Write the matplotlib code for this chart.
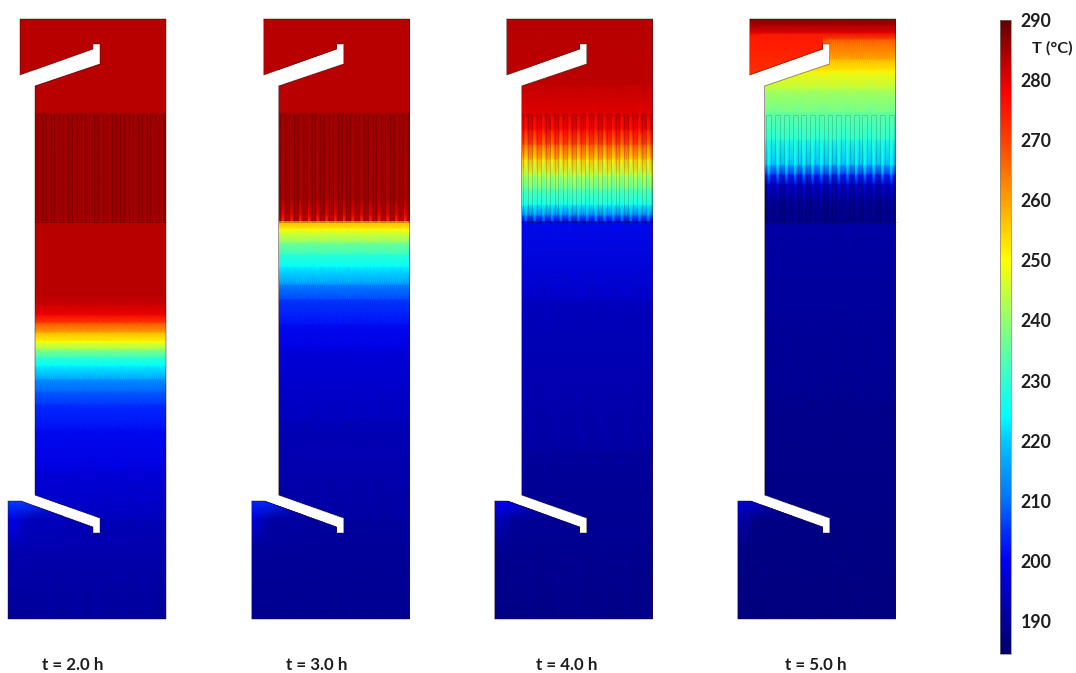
import numpy as np
import matplotlib
matplotlib.use("Agg")
import matplotlib.pyplot as plt
from matplotlib.colors import LinearSegmentedColormap, Normalize
from matplotlib.cm import ScalarMappable
from matplotlib.patches import Polygon

W, H = 1076, 673
plt.rcParams['font.family'] = ['Lato', 'DejaVu Sans']

# values, y is in picture pixels
labels = ["t = 2.0 h", "t = 3.0 h", "t = 4.0 h", "t = 5.0 h"]
label_x = [73, 317, 567, 816]
ticks = [190, 200, 210, 220, 230, 240, 250, 260, 270, 280, 290]
tmin, tmax = 184.5, 290

y1 = [19, 113, 113.5, 221.5, 222, 295, 305, 315, 323, 333, 342, 350, 358, 366, 380, 392, 405, 430, 470, 520, 619]
t1_gap = [283.5, 283.5, 285, 285, 283.5, 283.5, 282, 279, 270, 258, 250, 240, 230, 224, 214, 209, 205, 201, 198, 194, 190]
t1_fin = [283.5, 283.5, 285.6, 285.6, 283.5, 283.5, 282, 279, 270, 258, 250, 240, 230, 224, 214, 209, 205, 201, 198, 194, 190]

y2 = [19, 113, 113.5, 200, 215, 221.5, 222, 230, 243, 255, 267, 285, 300, 325, 350, 420, 520, 619]
t2_gap = [283.5, 283.5, 285, 284, 278, 270, 259, 250, 238, 230, 224, 213, 206, 201, 198, 194, 191, 189]
t2_fin = [283.5, 283.5, 285.6, 285.6, 284.5, 283, 259, 250, 238, 230, 224, 213, 206, 201, 198, 194, 191, 189]

y3 = [19, 85, 113, 113.5, 130, 145, 160, 175, 190, 205, 216, 221.5, 222, 300, 450, 619]
t3_gap = [283.5, 283, 280, 279, 274, 262, 250, 240, 232, 226, 216, 208, 201, 195, 191, 188]
t3_fin = [283.5, 283, 280, 283, 279, 270, 258, 245, 235, 226, 209, 200, 201, 195, 191, 188]

y4 = [19, 25, 33, 40, 60, 72, 90, 113, 113.5, 140, 165, 175, 185, 200, 221.5, 222, 400, 619]
t4_gap = [287, 285, 280, 268, 258, 251, 243, 236, 235, 230, 224, 214, 200, 192, 188, 192, 189, 187]
t4_fin = [287, 285, 280, 268, 258, 251, 243, 236, 236, 228, 218, 203, 193, 190, 187, 192, 189, 187]

# the upper left block of the last panel stays hotter
y4_block = [36, 50, 75]
t4_block = [275, 274, 272]

# warmer corner of the lower block
t_corner = [206, 204, 200, 196]

ys = [y1, y2, y3, y4]
t_gaps = [t1_gap, t2_gap, t3_gap, t4_gap]
t_fins = [t1_fin, t2_fin, t3_fin, t4_fin]

outline = [(20, 19), (166, 19), (166, 619), (8, 619), (8, 501), (21, 501), (93, 527),
           (93, 533), (100, 533), (100, 518), (35, 495), (35, 86), (100, 64), (100, 44),
           (93, 44), (93, 49), (20, 75)]
offsets = [0, 243.5, 486.5, 729.5]
fin_top, fin_bottom = 113, 222
n_fins = 15

jet_t = [tmin, 190, 200, 205, 210, 220, 224, 230, 240, 250, 260, 270, 278, 283, 290]
jet_c = ["#000068", "#000098", "#0000f0", "#0030ff", "#0070ff", "#00c8ff", "#00ffff",
         "#30ffd0", "#90ff70", "#ffff00", "#ffa000", "#ff4000", "#ff0000", "#c00000", "#600000"]
cmap = LinearSegmentedColormap.from_list(
    "field", [((t - tmin) / (tmax - tmin), c) for t, c in zip(jet_t, jet_c)], N=512)
norm = Normalize(tmin, tmax)

fig = plt.figure(figsize=(W / 100, H / 100), dpi=100)
ax = fig.add_axes([0, 0, 1, 1])
ax.set_xlim(0, W)
ax.set_ylim(H, 0)
ax.axis("off")

pitch = (166 - 35) / n_fins

for i, off in enumerate(offsets):
    clip = Polygon([(x + off, y) for x, y in outline], closed=True, transform=ax.transData,
                   facecolor="none", edgecolor="none")
    ax.add_patch(clip)

    # x nodes: fin edge, channel centre, fin edge ... one row per profile knot
    xn, is_fin = [8 + off, 35 + off], [1, 1]
    for k in range(n_fins):
        x0 = 35 + off + k * pitch
        xn += [x0 + 0.22 * pitch, x0 + 0.5 * pitch, x0 + 0.78 * pitch, x0 + pitch]
        is_fin += [1, 0, 1, 1]
    is_fin = np.array(is_fin)
    gap, fin = np.array(t_gaps[i]), np.array(t_fins[i])
    field = np.where(is_fin[None, :] == 1, fin[:, None], gap[:, None])
    X, Y = np.meshgrid(xn, ys[i])
    mesh = ax.pcolormesh(X, Y, field, shading="gouraud", cmap=cmap, norm=norm)
    mesh.set_clip_path(clip)

    # lower block corner
    base = np.interp([501, 520, 550], ys[i], gap)
    cx = np.array([8, 28, 62]) + off
    cy = [501, 520, 550]
    ct = np.tile(base[:, None], (1, 3))
    ct[0, 0] = ct[0, 1] = t_corner[i]
    ct[1, 0] = (t_corner[i] + base[1]) / 2
    m2 = ax.pcolormesh(*np.meshgrid(cx, cy), ct, shading="gouraud", cmap=cmap, norm=norm)
    m2.set_clip_path(clip)

    if i == 3:
        block = Polygon([(20 + off, 36), (93 + off, 36), (93 + off, 49), (20 + off, 75)],
                        closed=True, transform=ax.transData, facecolor="none", edgecolor="none")
        ax.add_patch(block)
        bx, by = np.meshgrid([20 + off, 93 + off], y4_block)
        m3 = ax.pcolormesh(bx, by, np.array([t4_block, t4_block]).T, shading="gouraud", cmap=cmap, norm=norm)
        m3.set_clip_path(block)

    # comb of the fins
    cx_, cy_ = [35 + off], [fin_bottom]
    for k in range(n_fins):
        x0 = 35 + off + k * pitch
        cx_ += [x0 + 0.22 * pitch, x0 + 0.22 * pitch, x0 + 0.78 * pitch, x0 + 0.78 * pitch]
        cy_ += [fin_bottom, fin_top + 2, fin_top + 2, fin_bottom]
    ax.plot(cx_, cy_, color="black", lw=0.6, alpha=0.18)
    ax.plot([35 + off, 166 + off], [fin_bottom, fin_bottom], color="black", lw=0.6, alpha=0.2)

    ax.add_patch(Polygon([(x + off, y) for x, y in outline], closed=True, facecolor="none",
                         edgecolor="#301010", lw=0.7, alpha=0.45))
    ax.text(label_x[i], 665, labels[i], ha="center", va="center", fontsize=12.2,
            fontweight="bold", color="#1e1e1e")

cax = fig.add_axes([1000 / W, 1 - 654 / H, 11 / W, (654 - 20) / H])
cb = fig.colorbar(ScalarMappable(norm=norm, cmap=cmap), cax=cax)
cb.set_ticks(ticks)
cb.ax.tick_params(length=0, labelsize=12.8, pad=7, labelcolor="#1e1e1e")
for t in cb.ax.get_yticklabels():
    t.set_fontweight("bold")
cb.outline.set_edgecolor("#808080")
cb.outline.set_linewidth(0.5)
ax.text(1052, 48, "T (°C)", ha="center", va="center", fontsize=11.8, fontweight="bold", color="#1e1e1e")

fig.savefig("out.png", dpi=100)
